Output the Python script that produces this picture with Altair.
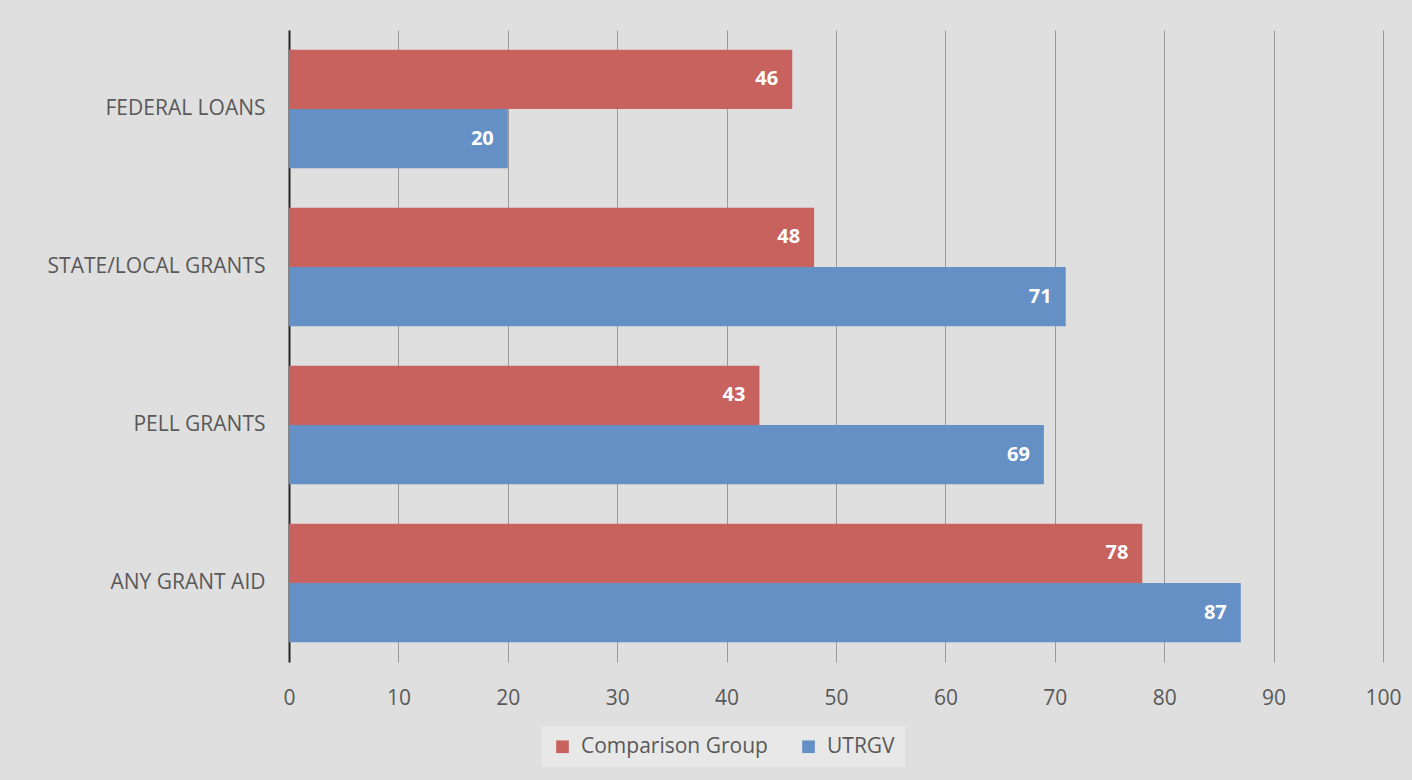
import altair as alt
import pandas as pd

categories = ["FEDERAL LOANS", "STATE/LOCAL GRANTS", "PELL GRANTS", "ANY GRANT AID"]
series = ["Comparison Group", "UTRGV"]
comparison = [46, 48, 43, 78]
utrgv = [20, 71, 69, 87]
colors = ["#c8625f", "#6590c6"]

rows = []
for c, a, b in zip(categories, comparison, utrgv):
    rows.append({"cat": c, "series": series[0], "value": a})
    rows.append({"cat": c, "series": series[1], "value": b})
df = pd.DataFrame(rows)

font = "Open Sans"

y = alt.Y("cat:N", sort=categories, title=None,
          scale=alt.Scale(paddingInner=0.25, paddingOuter=0.125),
          axis=alt.Axis(domainColor="#262626", domainWidth=2, ticks=False,
                        labelFontSize=21, labelColor="#595959", labelFont=font,
                        labelPadding=24, labelLimit=400))
x = alt.X("value:Q", title=None,
          scale=alt.Scale(domain=[0, 100], nice=False),
          axis=alt.Axis(values=list(range(0, 101, 10)), grid=True, gridColor="#9a9a9a",
                        gridWidth=1, domain=False, ticks=False, labelFontSize=21,
                        labelColor="#595959", labelFont=font, labelPadding=25,
                        labelFlush=False))

bars = alt.Chart(df).mark_bar().encode(
    y=y, x=x,
    yOffset=alt.YOffset("series:N", sort=series),
    color=alt.Color("series:N", sort=series, title=None,
                    scale=alt.Scale(domain=series, range=colors),
                    legend=alt.Legend(orient="none", direction="horizontal",
                                      legendX=253, legendY=696,
                                      symbolType="square", symbolSize=160,
                                      symbolStrokeWidth=0,
                                      labelFontSize=21, labelColor="#595959",
                                      labelFont=font, labelOffset=8,
                                      labelLimit=400, columnPadding=30,
                                      padding=10, fillColor="#e8e8e8")),
)

labels = alt.Chart(df).mark_text(align="right", dx=-14, fontWeight="bold",
                                 fontSize=20, color="white", font=font).encode(
    y=alt.Y("cat:N", sort=categories),
    x="value:Q",
    yOffset=alt.YOffset("series:N", sort=series),
    text="value:Q",
)

chart = (bars + labels).properties(
    width=1094, height=632,
    background="#dfdfdf",
    padding={"left": 289, "top": 30, "right": 29, "bottom": 118},
    autosize=alt.AutoSizeParams(type="none"),
).configure_view(stroke=None)

chart.save("out.html", embed_options={"renderer": "svg", "actions": False})
